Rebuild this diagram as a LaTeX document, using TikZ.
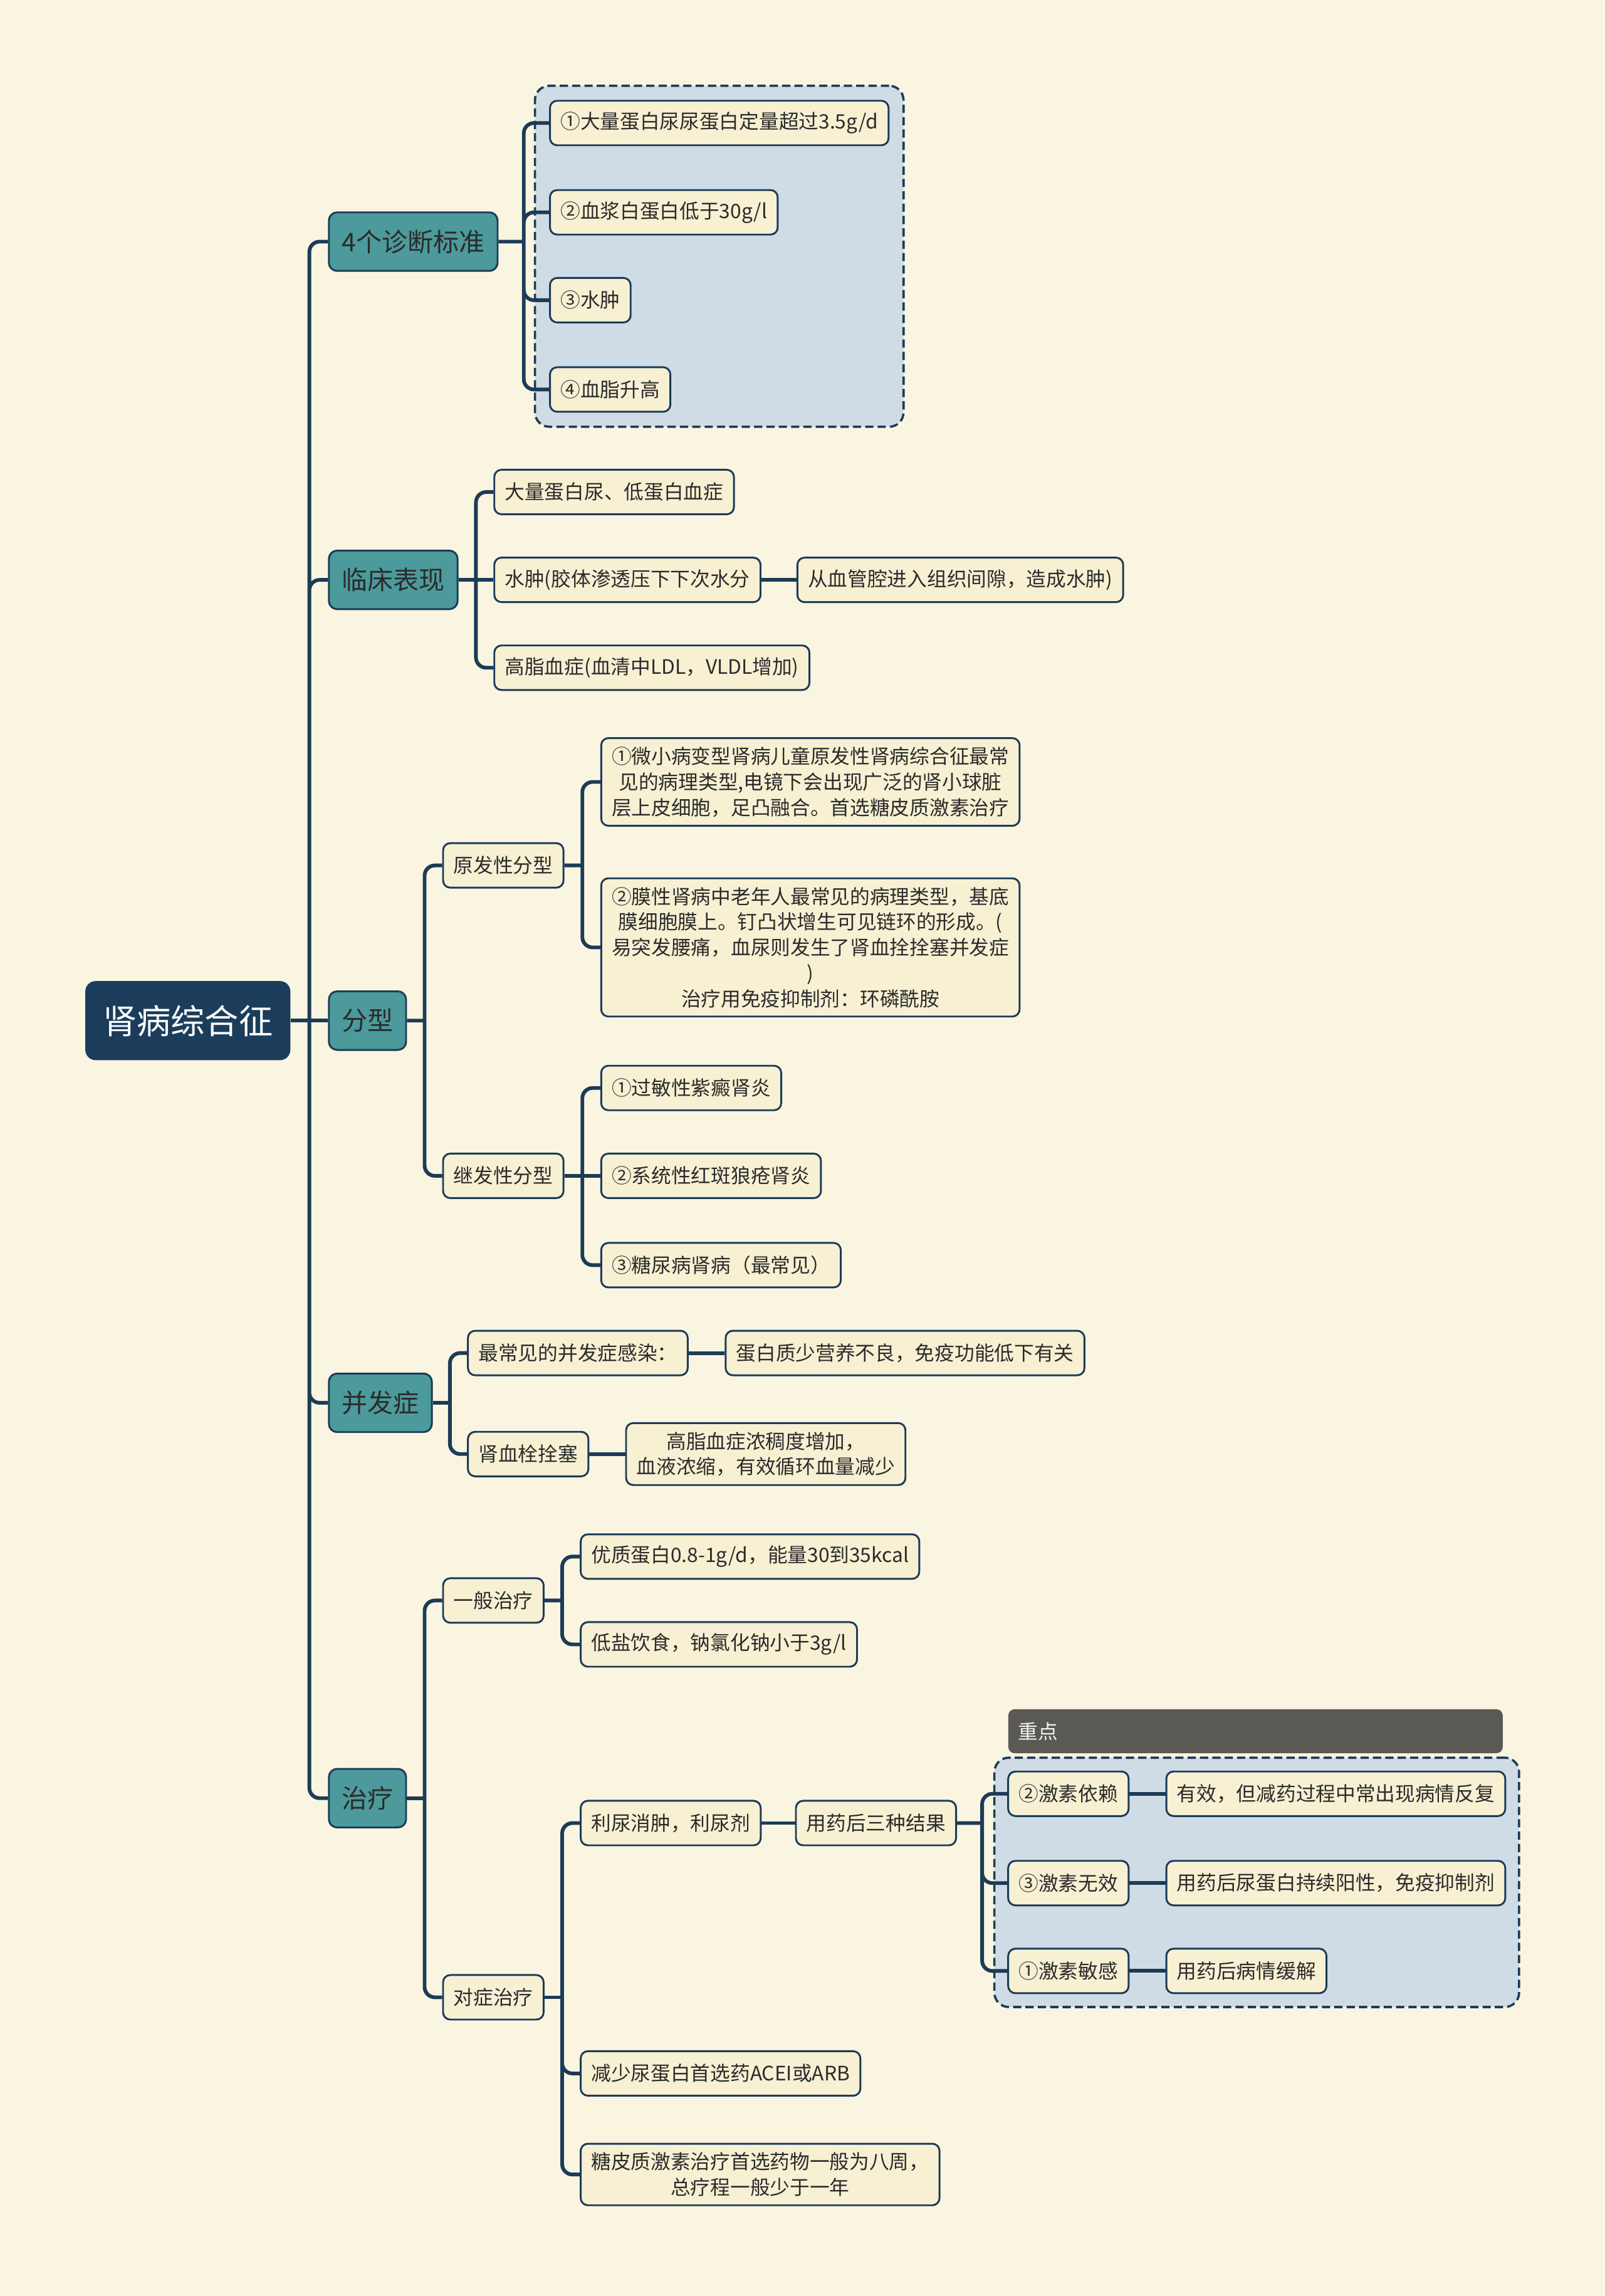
\documentclass[tikz,border=0pt]{standalone}
\usepackage{fontspec}
\usepackage{tikz}
\usetikzlibrary{calc,positioning,fit,backgrounds}
\newfontfamily\cjk{Noto Sans CJK SC}
\definecolor{pagecream}{HTML}{FAF5E1}
\definecolor{leafcream}{HTML}{F7F0D3}
\definecolor{topteal}{HTML}{4C9A9B}
\definecolor{rootnavy}{HTML}{1B3D5B}
\definecolor{linknavy}{HTML}{1C3B57}
\definecolor{grpblue}{HTML}{CFDCE5}
\definecolor{headgray}{HTML}{5A5954}
\definecolor{inkgray}{HTML}{2B2B2B}

\begin{document}
\begin{tikzpicture}[x=0.025cm, y=-0.025cm,
  rootbox/.style={fill=rootnavy, rounded corners=5pt, text=white,
    font=\cjk\fontsize{16.5}{20}\selectfont, inner xsep=0.3cm,
    minimum height=1.35cm, anchor=west},
  topbox/.style={draw=linknavy, line width=0.9pt, fill=topteal, rounded corners=4pt,
    text=inkgray, font=\cjk\fontsize{12.5}{15}\selectfont, inner xsep=0.22cm,
    minimum height=1cm, anchor=west},
  leafbox/.style={draw=linknavy, line width=0.9pt, fill=leafcream, rounded corners=3.5pt,
    text=inkgray, font=\cjk\fontsize{9.65}{12.4}\selectfont, inner xsep=0.18cm,
    inner ysep=0.15cm, minimum height=0.76cm, align=center, anchor=west},
  grpbox/.style={draw=linknavy, dash pattern=on 4pt off 2pt, line width=1.1pt,
    fill=grpblue, rounded corners=7pt},
  headbox/.style={fill=headgray, rounded corners=3pt, text=white!90!gray,
    font=\cjk\fontsize{9.65}{12}\selectfont, text width=8.1cm, align=left,
    inner xsep=0.17cm, minimum height=0.75cm, anchor=south west},
  conn/.style={draw=linknavy, line width=1.8pt, rounded corners=5pt}
]
\useasboundingbox (0,0) rectangle (1096,1568);

%--- centro ---
\node[rootbox] (kidney) at (58,697) {肾病综合征};

%--- rami principali ---
\node[topbox] (diag) at (224,165) {4个诊断标准};
\node[topbox] (clin) at (224,396) {临床表现};
\node[topbox] (stype) at (224,697) {分型};
\node[topbox] (compl) at (224,958) {并发症};
\node[topbox] (treat) at (224,1228) {治疗};

%--- 4个诊断标准 ---
\node[leafbox] (d1) at (375,84) {①大量蛋白尿尿蛋白定量超过3.5g/d};
\node[leafbox] (d2) at (375,145) {②血浆白蛋白低于30g/l};
\node[leafbox] (d3) at (375,205) {③水肿};
\node[leafbox] (d4) at (375,266) {④血脂升高};

%--- 临床表现 ---
\node[leafbox] (c1) at (337,336) {大量蛋白尿、低蛋白血症};
\node[leafbox] (c2) at (337,396) {水肿(胶体渗透压下下次水分};
\node[leafbox] (c2a) at (544,396) {从血管腔进入组织间隙，造成水肿)};
\node[leafbox] (c3) at (337,456) {高脂血症(血清中LDL，VLDL增加)};

%--- 分型 ---
\node[leafbox] (prim) at (302,591) {原发性分型};
\node[leafbox] (sec) at (302,803) {继发性分型};
\node[leafbox] (p1) at (410,534) {①微小病变型肾病儿童原发性肾病综合征最常\\见的病理类型,电镜下会出现广泛的肾小球脏\\层上皮细胞，足凸融合。首选糖皮质激素治疗};
\node[leafbox] (p2) at (410,647) {②膜性肾病中老年人最常见的病理类型，基底\\膜细胞膜上。钉凸状增生可见链环的形成。(\\易突发腰痛，血尿则发生了肾血拴拴塞并发症\\)\\治疗用免疫抑制剂：环磷酰胺};
\node[leafbox] (s1) at (410,743) {①过敏性紫癜肾炎};
\node[leafbox] (s2) at (410,803) {②系统性红斑狼疮肾炎};
\node[leafbox] (s3) at (410,864) {③糖尿病肾病（最常见）};

%--- 并发症 ---
\node[leafbox] (inf) at (319,924) {最常见的并发症感染：};
\node[leafbox] (inf1) at (495,924) {蛋白质少营养不良，免疫功能低下有关};
\node[leafbox] (thr) at (319,993) {肾血栓拴塞};
\node[leafbox] (thr1) at (427,993) {高脂血症浓稠度增加，\\血液浓缩，有效循环血量减少};

%--- 治疗 ---
\node[leafbox] (gen) at (302,1093) {一般治疗};
\node[leafbox] (sym) at (302,1364) {对症治疗};
\node[leafbox] (g1) at (396,1063) {优质蛋白0.8-1g/d，能量30到35kcal};
\node[leafbox] (g2) at (396,1123) {低盐饮食，钠氯化钠小于3g/l};
\node[leafbox] (diu) at (396,1245) {利尿消肿，利尿剂};
\node[leafbox] (diu1) at (543,1245) {用药后三种结果};
\node[leafbox] (acei) at (396,1416) {减少尿蛋白首选药ACEI或ARB};
\node[leafbox] (gc) at (396,1485) {糖皮质激素治疗首选药物一般为八周，\\总疗程一般少于一年};
\node[leafbox] (r2) at (688,1225) {②激素依赖};
\node[leafbox] (r3) at (688,1286) {③激素无效};
\node[leafbox] (r1) at (688,1346) {①激素敏感};
\node[leafbox] (r2a) at (796,1225) {有效，但减药过程中常出现病情反复};
\node[leafbox] (r3a) at (796,1286) {用药后尿蛋白持续阳性，免疫抑制剂};
\node[leafbox] (r1a) at (796,1346) {用药后病情缓解};

%--- sfondo e riquadri ---
\begin{scope}[on background layer]
\fill[pagecream] (0,0) rectangle (1096,1568);
\node[grpbox, fit=(d1)(d2)(d3)(d4), inner sep=0.24cm] (diaggrp) {};
\node[grpbox, fit=(r2)(r2a)(r1)(r1a), inner sep=0.22cm] (keygrp) {};
\end{scope}
\node[headbox] (keyhd) at ($(keygrp.north west)+(10,-2)$) {重点};

%--- collegamenti ---
\coordinate (kbus) at ($(kidney.east)!0.5!(diag.west |- kidney.east)$);
\draw[conn] (kidney.east) -- (stype.west);
\draw[conn] (kbus) |- (diag.west) (kbus) |- (clin.west) (kbus) |- (compl.west) (kbus) |- (treat.west);

\coordinate (dbus) at ($(diag.east)!0.5!(d1.west |- diag.east)$);
\draw[conn] (diag.east) -- (dbus);
\draw[conn] (dbus) |- (d1.west) (dbus) |- (d2.west) (dbus) |- (d3.west) (dbus) |- (d4.west);

\coordinate (cbus) at ($(clin.east)!0.5!(c1.west |- clin.east)$);
\draw[conn] (clin.east) -- (c2.west);
\draw[conn] (cbus) |- (c1.west) (cbus) |- (c3.west);
\draw[conn] (c2.east) -- (c2a.west);

\coordinate (tbus) at ($(stype.east)!0.5!(prim.west |- stype.east)$);
\draw[conn] (stype.east) -- (tbus);
\draw[conn] (tbus) |- (prim.west) (tbus) |- (sec.west);
\coordinate (pbus) at ($(prim.east)!0.5!(p1.west |- prim.east)$);
\draw[conn] (prim.east) -- (pbus);
\draw[conn] (pbus) |- (p1.west) (pbus) |- (p2.west);
\coordinate (sbus) at ($(sec.east)!0.5!(s1.west |- sec.east)$);
\draw[conn] (sec.east) -- (s2.west);
\draw[conn] (sbus) |- (s1.west) (sbus) |- (s3.west);

\coordinate (mbus) at ($(compl.east)!0.5!(inf.west |- compl.east)$);
\draw[conn] (compl.east) -- (mbus);
\draw[conn] (mbus) |- (inf.west) (mbus) |- (thr.west);
\draw[conn] (inf.east) -- (inf1.west);
\draw[conn] (thr.east) -- (thr1.west);

\coordinate (trbus) at ($(treat.east)!0.5!(gen.west |- treat.east)$);
\draw[conn] (treat.east) -- (trbus);
\draw[conn] (trbus) |- (gen.west) (trbus) |- (sym.west);
\coordinate (gbus) at ($(gen.east)!0.5!(g1.west |- gen.east)$);
\draw[conn] (gen.east) -- (gbus);
\draw[conn] (gbus) |- (g1.west) (gbus) |- (g2.west);
\coordinate (ybus) at ($(sym.east)!0.5!(diu.west |- sym.east)$);
\draw[conn] (sym.east) -- (ybus);
\draw[conn] (ybus) |- (diu.west) (ybus) |- (acei.west) (ybus) |- (gc.west);
\draw[conn] (diu.east) -- (diu1.west);
\coordinate (rbus) at ($(diu1.east)!0.5!(r2.west |- diu1.east)$);
\draw[conn] (diu1.east) -- (rbus);
\draw[conn] (rbus) |- (r2.west) (rbus) |- (r3.west) (rbus) |- (r1.west);
\draw[conn] (r2.east) -- (r2a.west);
\draw[conn] (r3.east) -- (r3a.west);
\draw[conn] (r1.east) -- (r1a.west);
\end{tikzpicture}
\end{document}
